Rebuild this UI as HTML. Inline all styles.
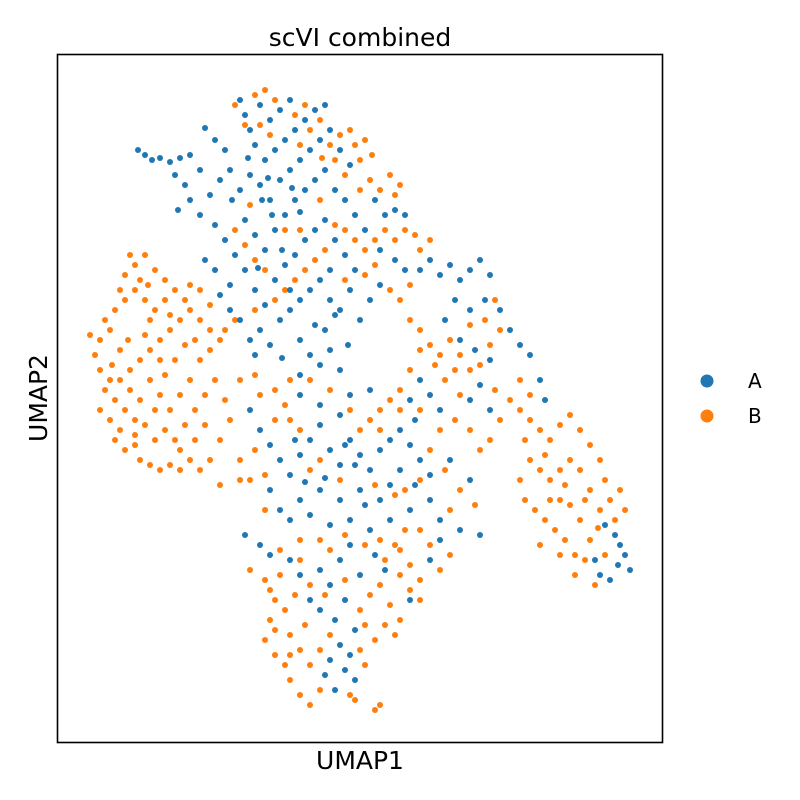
<!DOCTYPE html>
<html><head><meta charset="utf-8"><style>
html,body{margin:0;padding:0;background:#fff;}
svg{display:block;font-family:"DejaVu Sans","Liberation Sans",sans-serif;}
</style></head><body>
<svg id="chart" width="800" height="800" viewBox="0 0 800 800">
<rect width="800" height="800" fill="#fff"/>
<text x="360" y="46" text-anchor="middle" font-size="25">scVI combined</text>
<g id="points"></g>
<rect x="57.5" y="54.5" width="605" height="688" fill="none" stroke="#000" stroke-width="1.6"/>
<text x="360" y="769" text-anchor="middle" font-size="25">UMAP1</text>
<text x="47" y="398" text-anchor="middle" font-size="25" transform="rotate(-90 47 398)">UMAP2</text>
<g>
<g><circle cx="707" cy="381" r="6.5" fill="#1f77b4"/><text x="748" y="388" font-size="20">A</text></g>
<g><circle cx="707" cy="416" r="6.5" fill="#ff7f0e"/><text x="748" y="423" font-size="20">B</text></g>
</g>
</svg>
<script>
const categories = ["A","B"];
const seriesA = [[138,150],[145,155],[152,160],[160,158],[170,162],[180,158],[190,155],[175,175],[185,185],[200,170],[205,128],[215,140],[225,150],[178,210],[190,200],[200,215],[210,195],[220,180],[230,170],[240,100],[245,115],[250,130],[260,105],[270,120],[280,110],[290,100],[255,145],[265,160],[275,150],[285,140],[295,130],[305,120],[315,110],[325,105],[240,190],[250,175],[260,185],[270,200],[280,180],[290,170],[300,160],[310,150],[320,140],[330,130],[340,150],[350,165],[215,225],[225,240],[235,255],[205,260],[215,270],[230,285],[245,220],[255,235],[265,250],[275,230],[285,215],[295,200],[305,190],[315,180],[325,170],[335,190],[345,200],[355,215],[365,230],[375,200],[385,215],[395,210],[405,215],[245,270],[255,290],[265,305],[275,280],[285,265],[295,255],[305,240],[315,230],[325,220],[335,240],[345,255],[355,270],[260,330],[270,345],[280,320],[290,310],[300,300],[310,290],[320,280],[330,300],[340,310],[350,290],[240,320],[250,340],[300,340],[310,355],[320,365],[330,350],[340,370],[315,325],[325,330],[360,320],[370,300],[380,285],[395,260],[405,270],[380,250],[230,310],[220,295],[262,200],[232,200],[248,158],[268,178],[292,188],[282,250],[300,212],[272,215],[258,268],[290,290],[330,270],[335,315],[348,345],[300,375],[282,358],[255,355],
[420,270],[430,260],[440,275],[450,265],[460,280],[470,270],[480,260],[490,275],[455,300],[470,310],[485,300],[500,310],[510,330],[520,345],[530,355],[445,320],[460,340],[475,350],[490,360],[480,385],[470,400],[490,410],[430,395],[440,410],[420,380],[410,400],[540,380],[545,400],
[250,410],[260,430],[270,445],[280,460],[290,475],[300,455],[310,440],[320,425],[330,450],[340,465],[350,440],[360,455],[370,470],[380,450],[390,440],[400,430],[410,445],[420,460],[430,475],[415,420],[400,470],[390,485],[380,500],[360,490],[340,500],[320,490],[300,500],[280,510],[270,490],[290,520],[310,515],[330,525],[350,520],[370,530],[390,520],[410,510],[430,500],[440,520],[460,530],[470,480],[450,460],[245,535],[260,545],[270,555],[290,560],[300,575],[320,570],[330,585],[340,560],[350,545],[360,575],[375,555],[385,570],[310,600],[320,610],[335,620],[345,600],[355,630],[340,645],[330,660],[345,670],[355,680],[335,690],[325,675],[350,655],[440,540],[480,535],[300,395],[320,405],[350,395],[370,390],[340,415],[355,465],[325,478],[305,482],[365,505],[415,485],[345,445],[295,440],
[605,525],[615,535],[620,545],[625,555],[630,570],[618,565],[610,580],[600,575],[595,560],[430,560],[410,600]];
const seriesB = [[90,335],[95,355],[100,340],[100,370],[105,390],[100,410],[110,420],[115,440],[125,450],[135,445],[140,460],[150,465],[160,470],[170,465],[180,470],[190,460],[200,470],[210,460],[220,440],[230,420],[225,400],[215,380],[205,395],[195,410],[185,425],[175,440],[165,430],[155,440],[145,425],[135,420],[125,410],[115,400],[120,380],[130,390],[140,400],[150,380],[160,395],[170,410],[180,395],[190,380],[200,360],[210,350],[220,340],[210,330],[200,320],[190,310],[180,320],[170,330],[160,340],[150,350],[140,360],[130,370],[120,350],[110,330],[105,320],[115,310],[125,300],[135,290],[145,300],[155,310],[165,300],[175,290],[185,300],[125,275],[135,265],[145,255],[155,270],[165,280],[130,255],[140,280],[120,290],[200,290],[210,305],[190,285],[170,315],[150,320],[160,360],[175,360],[185,345],[195,340],[120,430],[135,435],[110,380],[220,485],[240,480],[145,335],[165,375],[180,450],[205,425],[128,340],[155,410],[195,440],[148,285],[112,365],
[235,105],[245,125],[255,95],[265,90],[275,100],[295,115],[305,105],[310,130],[320,120],[330,145],[340,135],[350,130],[355,145],[365,140],[372,155],[360,160],[345,175],[335,160],[322,158],[300,145],[260,125],[270,135],[360,190],[370,180],[380,190],[390,175],[395,195],[400,185],[385,230],[395,240],[375,240],[365,250],[355,240],[345,230],[335,225],[325,250],[315,260],[305,270],[295,280],[285,290],[275,300],[265,270],[255,260],[245,245],[235,230],[250,205],[285,230],[300,230],[320,200],[235,320],[225,330],[255,310],[345,280],[365,275],[375,265],[390,290],[400,300],[410,285],[420,250],[430,240],[415,235],[405,230],
[410,320],[420,330],[430,345],[440,355],[450,340],[460,355],[470,370],[480,365],[490,345],[500,330],[495,300],[485,320],[470,325],[455,370],[445,380],[435,365],[420,350],[410,370],[400,390],[390,400],[380,410],[400,410],[420,410],[440,430],[455,420],[470,430],[480,450],[490,440],[500,420],[510,400],[495,390],[460,395],[430,450],[445,470],[460,490],[475,505],[450,510],[420,530],[430,545],[440,570],[450,555],[420,580],[410,565],[400,550],
[520,410],[530,420],[540,430],[550,440],[560,425],[570,415],[580,430],[590,445],[600,460],[605,480],[610,500],[620,490],[625,510],[615,520],[600,510],[590,490],[580,470],[570,460],[560,470],[550,480],[540,470],[530,460],[520,480],[525,500],[535,510],[545,520],[555,530],[565,540],[575,555],[585,560],[590,540],[580,520],[570,505],[560,500],[550,500],[540,545],[560,555],[575,575],[595,585],[605,555],[520,380],[530,395],[525,440],[565,485],[585,500],[545,455],[598,528],
[240,380],[255,375],[260,395],[275,390],[285,405],[290,420],[300,430],[275,420],[255,450],[250,480],[265,475],[240,460],[290,380],[310,380],[330,390],[350,410],[370,420],[380,430],[360,430],[320,460],[340,480],[310,470],[375,485],[395,495],[405,490],[420,480],[265,510],[300,540],[320,540],[345,535],[365,545],[380,540],[395,545],[405,530],
[250,570],[265,580],[280,575],[275,600],[270,620],[265,640],[275,655],[285,665],[290,680],[300,695],[310,705],[320,690],[310,665],[300,650],[290,635],[285,610],[295,595],[310,585],[325,595],[330,635],[320,650],[360,610],[370,595],[380,585],[390,605],[400,620],[395,635],[375,640],[360,650],[365,665],[350,695],[375,710],[380,705],[355,700],[385,560],[400,575],[410,590],[300,560],[280,550],[420,600],[345,580],[330,550],[275,630],[305,625],[385,625],[365,625],[290,655],[270,590]];
const xDomain = [58, 662];
const yDomain = [55, 742];
function xScale(v){ return 58 + (v - xDomain[0]) / (xDomain[1] - xDomain[0]) * 604; }
function yScale(v){ return 55 + (v - yDomain[0]) / (yDomain[1] - yDomain[0]) * 687; }
const g = document.getElementById('points');
const NS = 'http://www.w3.org/2000/svg';
function draw(series, color, name){
  series.forEach(function(p){
    const c = document.createElementNS(NS, 'circle');
    c.setAttribute('cx', xScale(p[0]));
    c.setAttribute('cy', yScale(p[1]));
    c.setAttribute('r', 3);
    c.setAttribute('fill', color);
    
    
    g.appendChild(c);
  });
}
draw(seriesB, '#ff7f0e', 'point-b');
draw(seriesA, '#1f77b4', 'point-a');
</script>
</body></html>
